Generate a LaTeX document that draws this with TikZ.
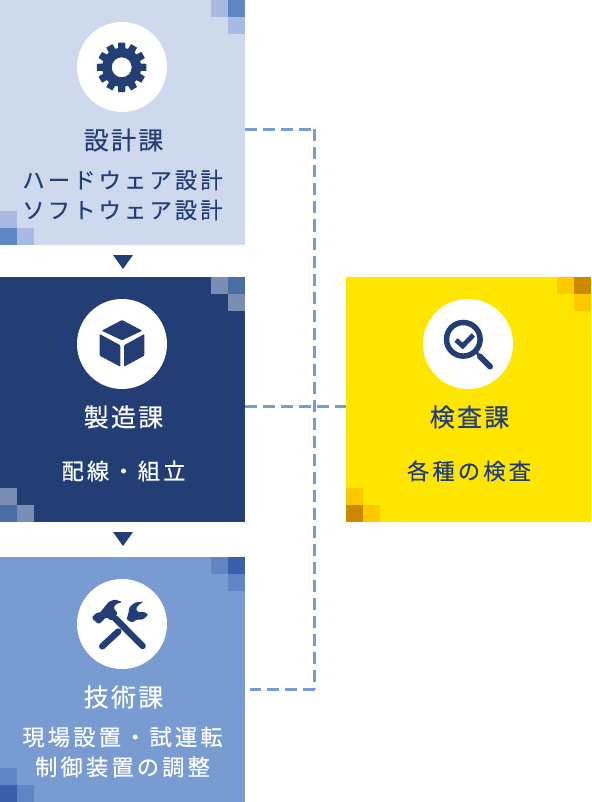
\documentclass[tikz,border=0pt]{standalone}
\usepackage{fontspec}
\setmainfont{Noto Sans CJK JP}
\newfontfamily\ttlfont[LetterSpace=9,FakeBold=0.35]{Noto Sans CJK JP}
\newfontfamily\subfont[LetterSpace=14,FakeBold=0.35]{Noto Sans CJK JP}
\definecolor{navy}{HTML}{233E75}
\definecolor{paleb}{HTML}{CFD9EE}
\definecolor{midb}{HTML}{789CD2}
\definecolor{yel}{HTML}{FFE600}
\definecolor{aL}{HTML}{A8BADF}
\definecolor{aD}{HTML}{5F86C4}
\definecolor{bL}{HTML}{7C8DB3}
\definecolor{bD}{HTML}{4A6DA4}
\definecolor{cL}{HTML}{6084C4}
\definecolor{cD}{HTML}{3B5FAB}
\definecolor{dL}{HTML}{FFC800}
\definecolor{dD}{HTML}{CE8800}
\tikzset{
  block/.style={anchor=north west,minimum width=245pt,minimum height=245pt,inner sep=0pt,outer sep=0pt,fill=#1},
  disc/.style={circle,fill=white,minimum size=90pt,inner sep=0pt},
  ttl/.style={font=\ttlfont\fontsize{25}{25}\selectfont,inner sep=0pt,text=#1},
  sub/.style={font=\subfont\fontsize{22.3}{22.3}\selectfont,inner sep=0pt,text=#1},
  link/.style={draw=midb,line width=3pt,dash pattern=on 12pt off 6pt},
  flow/.style={fill=navy,draw=none},
  ico/.style={fill=navy,draw=none,rounded corners=0.8pt},
}
\newcommand{\cornerset}[4]{%
  \fill[#3] (#1+211,#2) rectangle (#1+228,#2+17);
  \fill[#4] (#1+228,#2) rectangle (#1+245,#2+17);
  \fill[#3] (#1+228,#2+17) rectangle (#1+245,#2+34);
  \fill[#3] (#1,#2+211) rectangle (#1+17,#2+228);
  \fill[#4] (#1,#2+228) rectangle (#1+17,#2+245);
  \fill[#3] (#1+17,#2+228) rectangle (#1+34,#2+245);
}
\begin{document}
\begin{tikzpicture}[x=1pt,y=-1pt]
\useasboundingbox (0,0) rectangle (591,802);
\fill[white] (0,0) rectangle (591,802);
% blocks
\node[block=paleb] (design) at (0,0) {};
\node[block=navy] (make) at (0,277) {};
\node[block=midb] (tech) at (0,557) {};
\node[block=yel] (check) at (346,277) {};
% corners
\cornerset{0}{0}{aL}{aD}
\cornerset{0}{277}{bL}{bD}
\cornerset{0}{557}{cL}{cD}
\cornerset{346}{277}{dL}{dD}
% connectors
\coordinate (d1) at (245,129.5);
\coordinate (d2) at (314.5,129.5);
\coordinate (d3) at (314.5,689);
\coordinate (d4) at (250,689);
\draw[link] (d1) -- (d2);
\draw[link] (d2) -- (d3);
\draw[link] (d3) -- (d4);
\coordinate (m1) at (245,406);
\coordinate (m2) at (346,406);
\draw[link] (m1) -- (m2);
% flow triangles
\fill[flow] (113,255) -- (133,255) -- (123,269) -- cycle;
\fill[flow] (113,532) -- (133,532) -- (123,546) -- cycle;
% discs
\node[disc] (dd) at (122,67) {};
\node[disc] (dm) at (122,344) {};
\node[disc] (dt) at (122,624) {};
\node[disc] (dc) at (468,344) {};
% gear
\fill[navy,even odd rule]
  ({121.7+25*cos(-8)},{67.3+25*sin(-8)})
  \foreach \a in {0,30,...,330}{
    -- ({121.7+25*cos(\a-8)},{67.3+25*sin(\a-8)})
    -- ({121.7+25*cos(\a+8)},{67.3+25*sin(\a+8)})
    -- ({121.7+19.5*cos(\a+11)},{67.3+19.5*sin(\a+11)})
    -- ({121.7+19.5*cos(\a+19)},{67.3+19.5*sin(\a+19)})
  } -- cycle
  (121.7,67.3) circle (10);
% cube
\fill[ico] (122,320) -- (142.3,330.7) -- (122,340.3) -- (101.7,330.7) -- cycle;
\fill[ico] (99.7,334) -- (120.3,345.3) -- (120.3,366.7) -- (99.7,355.7) -- cycle;
\fill[ico] (144.3,334) -- (124,345.3) -- (124,366.7) -- (144.3,355.7) -- cycle;
% tools
\draw[navy,line width=6.5pt,line cap=round,shorten >=1pt] (115,618.3) -- (143.3,646.7);
\fill[ico,rounded corners=1.5pt] (91.5,617.7) -- (97.3,612) -- (99.3,613.5) -- (109,601.5) -- (115,599.5) -- (122.5,602) -- (115.5,604.3) -- (113.5,608.3) -- (118,613.3) -- (110.7,621) -- (106.7,616.7) -- (98.7,624.5) -- cycle;
\draw[navy,line width=6.5pt,line cap=round,shorten <=1pt] (101.5,647) -- (118.3,631.5);
\fill[navy,rounded corners=1.2pt] (143.5,601.5) -- (135,602.5) -- (129.5,607) -- (128.5,613) -- (126.5,619.5) -- (132,622.5) -- (137,619.5) -- (143,619.5) -- (148.5,614.5) -- (143,611.5) -- (138.5,612.5) -- (136,609) -- (138,605.5) -- cycle;
% magnifier
\draw[navy,line width=5.5pt] (463.3,339.3) circle (16.8);
\draw[navy,line width=2.5pt] (476,352) -- (480,356);
\draw[navy,line width=6pt,line cap=round] (480,356.5) -- (490,366.5);
\draw[navy,line width=4.8pt] (456,340) -- (462.7,346) -- (473.3,335);
% text
\node[ttl=navy] (t1) at (123.5,140) {設計課};
\node[sub=navy] (s1a) at (122.5,180) {ハードウェア設計};
\node[sub=navy] (s1b) at (122.5,210) {ソフトウェア設計};
\node[ttl=white] (t2) at (123.5,417) {製造課};
\node[sub=white] (s2) at (123.5,471) {配線・組立};
\node[ttl=white] (t3) at (123.5,697) {技術課};
\node[sub=white] (s3a) at (122.5,737) {現場設置・試運転};
\node[sub=white] (s3b) at (122.5,767) {制御装置の調整};
\node[ttl=navy] (t4) at (469.5,417) {検査課};
\node[sub=navy] (s4) at (469,471) {各種の検査};
\end{tikzpicture}
\end{document}
